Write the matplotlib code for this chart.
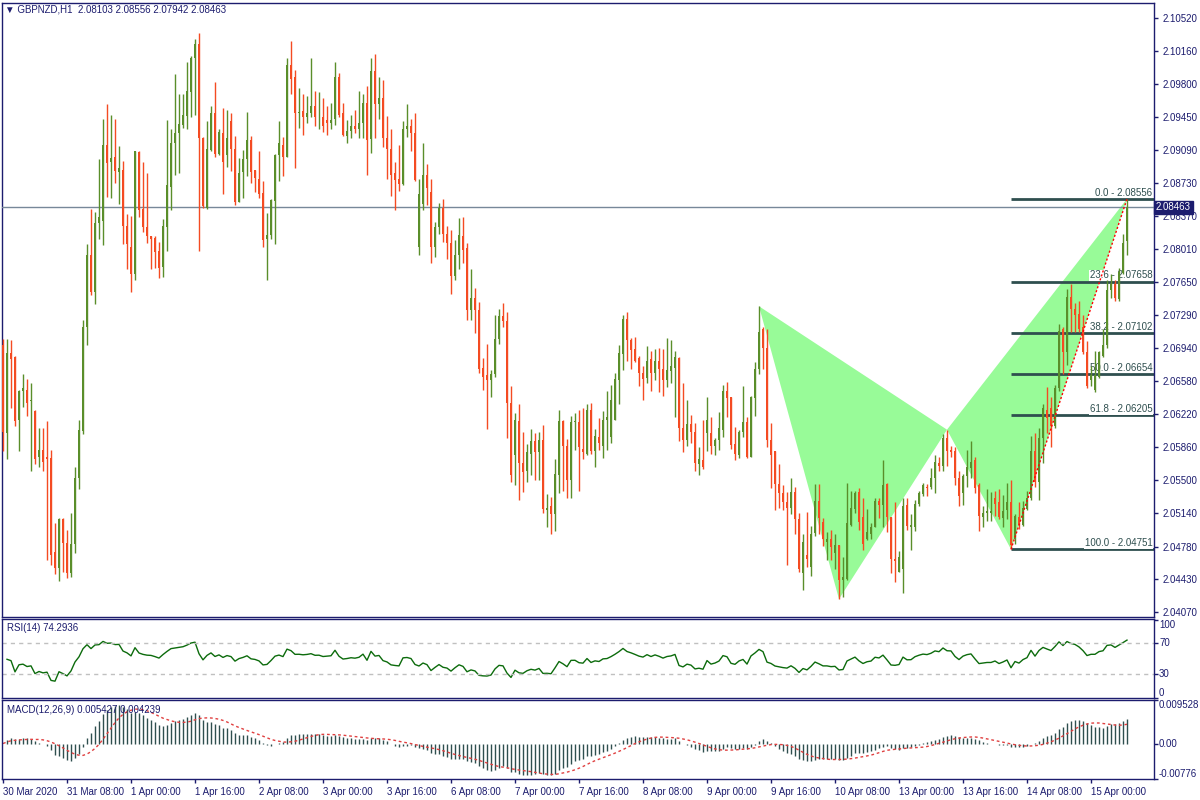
import numpy as np
import pandas as pd
import matplotlib
matplotlib.use("Agg")
import matplotlib.pyplot as plt
from matplotlib.patches import Polygon

plt.rcParams['font.family'] = ['Liberation Sans', 'DejaVu Sans']

# GBPNZD H1 candles, 30 Mar 2020 16:00 -> 15 Apr 2020 09:00
opens = [2.0697, 2.0601, 2.0688, 2.0684, 2.0615, 2.0647, 2.0648, 2.0636, 2.0625, 2.0575,
         2.0583, 2.0575, 2.0574, 2.0472, 2.0455, 2.0508, 2.0482, 2.0449, 2.0481, 2.0552,
         2.0604, 2.0716, 2.0795, 2.0754, 2.0829, 2.0832, 2.0914, 2.0896, 2.0901, 2.0885,
         2.0887, 2.0826, 2.0803, 2.0774, 2.0907, 2.0845, 2.0825, 2.0815, 2.0813, 2.0799,
         2.0782, 2.0825, 2.0868, 2.0916, 2.0927, 2.0936, 2.0946, 2.0972, 2.1009, 2.1024,
         2.0922, 2.0846, 2.0909, 2.0949, 2.0904, 2.0927, 2.0903, 2.0940, 2.0910, 2.0852,
         2.0885, 2.0899, 2.0920, 2.0887, 2.0877, 2.0862, 2.0812, 2.0816, 2.0853, 2.0903,
         2.0914, 2.0901, 2.1001, 2.0988, 2.0949, 2.0951, 2.0945, 2.0949, 2.0956, 2.0944,
         2.0945, 2.0941, 2.0938, 2.0942, 2.0988, 2.0949, 2.0924, 2.0929, 2.0935, 2.0932,
         2.0938, 2.0960, 2.0921, 2.0995, 2.0959, 2.0965, 2.0922, 2.0910, 2.0884, 2.0877,
         2.0872, 2.0932, 2.0935, 2.0927, 2.0803, 2.0850, 2.0882, 2.0863, 2.0803, 2.0825,
         2.0846, 2.0817, 2.0808, 2.0772, 2.0795, 2.0815, 2.0802, 2.0735, 2.0748, 2.0735,
         2.0672, 2.0664, 2.0659, 2.0665, 2.0703, 2.0728, 2.0723, 2.0634, 2.0578, 2.0614,
         2.0569, 2.0560, 2.0579, 2.0593, 2.0581, 2.0594, 2.0518, 2.0522, 2.0513, 2.0556,
         2.0614, 2.0587, 2.0550, 2.0613, 2.0613, 2.0584, 2.0579, 2.0626, 2.0582, 2.0597,
         2.0587, 2.0616, 2.0597, 2.0616, 2.0659, 2.0687, 2.0725, 2.0702, 2.0693, 2.0683,
         2.0666, 2.0661, 2.0682, 2.0667, 2.0680, 2.0671, 2.0659, 2.0669, 2.0672, 2.0683,
         2.0607, 2.0594, 2.0611, 2.0603, 2.0568, 2.0572, 2.0601, 2.0601, 2.0587, 2.0594,
         2.0605, 2.0647, 2.0641, 2.0589, 2.0578, 2.0602, 2.0613, 2.0575, 2.0639, 2.0671,
         2.0714, 2.0694, 2.0594, 2.0582, 2.0546, 2.0536, 2.0526, 2.0520, 2.0537, 2.0508,
         2.0449, 2.0469, 2.0456, 2.0493, 2.0528, 2.0505, 2.0483, 2.0486, 2.0471, 2.0480,
         2.0442, 2.0443, 2.0502, 2.0519, 2.0537, 2.0510, 2.0486, 2.0492, 2.0499, 2.0528,
         2.0523, 2.0546, 2.0510, 2.0465, 2.0451, 2.0454, 2.0523, 2.0499, 2.0499, 2.0524,
         2.0535, 2.0543, 2.0543, 2.0552, 2.0569, 2.0566, 2.0596, 2.0583, 2.0582, 2.0552,
         2.0536, 2.0555, 2.0563, 2.0572, 2.0545, 2.0510, 2.0514, 2.0514, 2.0531, 2.0526,
         2.0509, 2.0518, 2.0526, 2.0486, 2.0510, 2.0501, 2.0519, 2.0531, 2.0582, 2.0548,
         2.0596, 2.0626, 2.0628, 2.0609, 2.0650, 2.0714, 2.0689, 2.0749, 2.0736, 2.0731,
         2.0716, 2.0689, 2.0659, 2.0648, 2.0662, 2.0685, 2.0697, 2.0757, 2.0763, 2.0747,
         2.0775, 2.08103]
highs = [2.0703, 2.0703, 2.0702, 2.0685, 2.0648, 2.0665, 2.0660, 2.0656, 2.0626, 2.0607,
         2.0607, 2.0614, 2.0583, 2.0504, 2.0509, 2.0509, 2.0496, 2.0514, 2.0564, 2.0616,
         2.0724, 2.0807, 2.0845, 2.0841, 2.0899, 2.0942, 2.0959, 2.0947, 2.0942, 2.0913,
         2.0897, 2.0839, 2.0837, 2.0908, 2.0908, 2.0896, 2.0884, 2.0815, 2.0815, 2.0809,
         2.0834, 2.0941, 2.0931, 2.0991, 2.0969, 2.0969, 2.1004, 2.1011, 2.1029, 2.1036,
         2.0923, 2.0940, 2.0957, 2.0983, 2.0932, 2.0954, 2.0952, 2.0949, 2.0924, 2.0900,
         2.0909, 2.0950, 2.0924, 2.0887, 2.0908, 2.0875, 2.0840, 2.0855, 2.0904, 2.0940,
         2.0923, 2.1009, 2.1027, 2.0996, 2.0976, 2.0970, 2.0967, 2.1009, 2.0973, 2.0972,
         2.0965, 2.0957, 2.0960, 2.1004, 2.0992, 2.0960, 2.0941, 2.0947, 2.0952, 2.0973,
         2.0970, 2.0978, 2.1009, 2.1013, 2.0988, 2.0985, 2.0946, 2.0931, 2.0896, 2.0914,
         2.0940, 2.0959, 2.0942, 2.0949, 2.0877, 2.0916, 2.0894, 2.0877, 2.0831, 2.0851,
         2.0855, 2.0826, 2.0822, 2.0811, 2.0835, 2.0836, 2.0808, 2.0779, 2.0759, 2.0744,
         2.0683, 2.0698, 2.0670, 2.0729, 2.0736, 2.0743, 2.0733, 2.0652, 2.0623, 2.0633,
         2.0602, 2.0589, 2.0606, 2.0601, 2.0602, 2.0610, 2.0535, 2.0532, 2.0573, 2.0626,
         2.0615, 2.0595, 2.0620, 2.0623, 2.0626, 2.0629, 2.0633, 2.0634, 2.0606, 2.0618,
         2.0625, 2.0647, 2.0653, 2.0666, 2.0697, 2.0730, 2.0733, 2.0705, 2.0706, 2.0685,
         2.0674, 2.0696, 2.0690, 2.0693, 2.0694, 2.0693, 2.0705, 2.0702, 2.0690, 2.0684,
         2.0656, 2.0637, 2.0621, 2.0612, 2.0586, 2.0616, 2.0640, 2.0619, 2.0596, 2.0624,
         2.0653, 2.0657, 2.0641, 2.0608, 2.0605, 2.0652, 2.0619, 2.0642, 2.0679, 2.0739,
         2.0716, 2.0714, 2.0612, 2.0582, 2.0568, 2.0545, 2.0537, 2.0552, 2.0543, 2.0514,
         2.0492, 2.0516, 2.0500, 2.0546, 2.0546, 2.0509, 2.0494, 2.0496, 2.0492, 2.0480,
         2.0467, 2.0547, 2.0538, 2.0538, 2.0542, 2.0531, 2.0519, 2.0504, 2.0531, 2.0531,
         2.0572, 2.0547, 2.0510, 2.0526, 2.0473, 2.0531, 2.0531, 2.0513, 2.0529, 2.0538,
         2.0547, 2.0546, 2.0563, 2.0577, 2.0575, 2.0600, 2.0605, 2.0587, 2.0586, 2.0560,
         2.0557, 2.0583, 2.0593, 2.0575, 2.0547, 2.0522, 2.0541, 2.0537, 2.0538, 2.0541,
         2.0534, 2.0547, 2.0550, 2.0513, 2.0526, 2.0528, 2.0538, 2.0598, 2.0601, 2.0607,
         2.0633, 2.0651, 2.0641, 2.0653, 2.0720, 2.0717, 2.0758, 2.0763, 2.0743, 2.0745,
         2.0730, 2.0701, 2.0674, 2.0690, 2.0690, 2.0714, 2.0768, 2.0774, 2.0767, 2.0781,
         2.0818, 2.08556]
lows = [2.0582, 2.0573, 2.0629, 2.0609, 2.0582, 2.0630, 2.0620, 2.0560, 2.0568, 2.0564,
        2.0560, 2.0464, 2.0458, 2.0448, 2.0441, 2.0451, 2.0444, 2.0445, 2.0471, 2.0541,
        2.0600, 2.0697, 2.0751, 2.0742, 2.0812, 2.0806, 2.0858, 2.0857, 2.0873, 2.0850,
        2.0807, 2.0780, 2.0754, 2.0768, 2.0836, 2.0820, 2.0808, 2.0780, 2.0781, 2.0770,
        2.0771, 2.0799, 2.0843, 2.0882, 2.0884, 2.0933, 2.0932, 2.0945, 2.0947, 2.0799,
        2.0846, 2.0845, 2.0908, 2.0901, 2.0903, 2.0861, 2.0890, 2.0886, 2.0849, 2.0852,
        2.0857, 2.0880, 2.0873, 2.0863, 2.0857, 2.0803, 2.0767, 2.0812, 2.0807, 2.0875,
        2.0880, 2.0901, 2.0969, 2.0889, 2.0933, 2.0925, 2.0938, 2.0945, 2.0935, 2.0931,
        2.0928, 2.0925, 2.0931, 2.0936, 2.0944, 2.0924, 2.0916, 2.0922, 2.0927, 2.0922,
        2.0922, 2.0882, 2.0905, 2.0922, 2.0942, 2.0912, 2.0877, 2.0859, 2.0844, 2.0864,
        2.0871, 2.0923, 2.0908, 2.0875, 2.0795, 2.0843, 2.0849, 2.0786, 2.0793, 2.0817,
        2.0809, 2.0790, 2.0752, 2.0768, 2.0779, 2.0786, 2.0724, 2.0724, 2.0710, 2.0667,
        2.0648, 2.0606, 2.0640, 2.0662, 2.0698, 2.0716, 2.0596, 2.0548, 2.0545, 2.0529,
        2.0537, 2.0548, 2.0556, 2.0550, 2.0550, 2.0514, 2.0499, 2.0492, 2.0495, 2.0536,
        2.0538, 2.0531, 2.0531, 2.0583, 2.0538, 2.0573, 2.0577, 2.0579, 2.0565, 2.0583,
        2.0574, 2.0583, 2.0591, 2.0616, 2.0633, 2.0670, 2.0680, 2.0671, 2.0678, 2.0652,
        2.0637, 2.0656, 2.0647, 2.0659, 2.0646, 2.0642, 2.0651, 2.0656, 2.0619, 2.0593,
        2.0581, 2.0587, 2.0591, 2.0560, 2.0556, 2.0562, 2.0582, 2.0579, 2.0577, 2.0583,
        2.0597, 2.0619, 2.0584, 2.0572, 2.0574, 2.0597, 2.0574, 2.0575, 2.0620, 2.0665,
        2.0671, 2.0586, 2.0542, 2.0518, 2.0520, 2.0518, 2.0458, 2.0513, 2.0492, 2.0450,
        2.0431, 2.0456, 2.0446, 2.0490, 2.0492, 2.0479, 2.0463, 2.0463, 2.0454, 2.0421,
        2.0423, 2.0442, 2.0500, 2.0515, 2.0496, 2.0474, 2.0485, 2.0486, 2.0499, 2.0509,
        2.0499, 2.0494, 2.0449, 2.0440, 2.0451, 2.0428, 2.0496, 2.0474, 2.0495, 2.0522,
        2.0533, 2.0533, 2.0541, 2.0536, 2.0560, 2.0560, 2.0566, 2.0575, 2.0545, 2.0522,
        2.0523, 2.0543, 2.0552, 2.0536, 2.0495, 2.0499, 2.0506, 2.0506, 2.0511, 2.0508,
        2.0499, 2.0508, 2.04751, 2.0481, 2.0497, 2.0500, 2.0518, 2.0529, 2.0543, 2.0529,
        2.0569, 2.0601, 2.0586, 2.0607, 2.0647, 2.0665, 2.0675, 2.0711, 2.0711, 2.0711,
        2.0687, 2.0650, 2.0652, 2.0646, 2.0661, 2.0684, 2.0694, 2.0748, 2.0745, 2.0745,
        2.0774, 2.07942]
closes = [2.0602, 2.0688, 2.0682, 2.0614, 2.0647, 2.0650, 2.0634, 2.0637, 2.0573, 2.0583,
          2.0570, 2.0573, 2.0469, 2.0455, 2.0508, 2.0482, 2.0449, 2.0481, 2.0552, 2.0605,
          2.0717, 2.0795, 2.0754, 2.0829, 2.0836, 2.0914, 2.0895, 2.0900, 2.0886, 2.0889,
          2.0826, 2.0807, 2.0774, 2.0908, 2.0843, 2.0825, 2.0815, 2.0812, 2.0798, 2.0781,
          2.0826, 2.0871, 2.0916, 2.0927, 2.0937, 2.0947, 2.0973, 2.1009, 2.1024, 2.0922,
          2.0848, 2.0910, 2.0949, 2.0904, 2.0928, 2.0896, 2.0922, 2.0910, 2.0852, 2.0884,
          2.0899, 2.0920, 2.0885, 2.0878, 2.0861, 2.0811, 2.0816, 2.0854, 2.0903, 2.0916,
          2.0901, 2.1001, 2.0986, 2.0949, 2.0950, 2.0945, 2.0949, 2.0957, 2.0944, 2.0945,
          2.0935, 2.0938, 2.0941, 2.0988, 2.0947, 2.0925, 2.0929, 2.0935, 2.0932, 2.0938,
          2.0960, 2.0920, 2.0995, 2.0959, 2.0965, 2.0922, 2.0910, 2.0882, 2.0876, 2.0872,
          2.0932, 2.0935, 2.0927, 2.0876, 2.0861, 2.0882, 2.0867, 2.0803, 2.0825, 2.0846,
          2.0817, 2.0808, 2.0772, 2.0795, 2.0816, 2.0800, 2.0735, 2.0748, 2.0735, 2.0671,
          2.0662, 2.0659, 2.0665, 2.0703, 2.0728, 2.0723, 2.0634, 2.0556, 2.0615, 2.0569,
          2.0559, 2.0581, 2.0593, 2.0581, 2.0594, 2.0519, 2.0520, 2.0513, 2.0557, 2.0614,
          2.0587, 2.0550, 2.0613, 2.0614, 2.0586, 2.0581, 2.0626, 2.0582, 2.0598, 2.0591,
          2.0616, 2.0619, 2.0637, 2.0660, 2.0688, 2.0725, 2.0702, 2.0692, 2.0680, 2.0667,
          2.0660, 2.0680, 2.0667, 2.0680, 2.0671, 2.0659, 2.0670, 2.0674, 2.0684, 2.0607,
          2.0594, 2.0611, 2.0603, 2.0569, 2.0573, 2.0564, 2.0616, 2.0587, 2.0594, 2.0607,
          2.0647, 2.0639, 2.0588, 2.0579, 2.0602, 2.0613, 2.0575, 2.0641, 2.0671, 2.0711,
          2.0694, 2.0594, 2.0578, 2.0546, 2.0536, 2.0526, 2.0520, 2.0537, 2.0508, 2.0454,
          2.0483, 2.0465, 2.0492, 2.0528, 2.0509, 2.0486, 2.0486, 2.0478, 2.0480, 2.0442,
          2.0445, 2.0504, 2.0520, 2.0536, 2.0505, 2.0481, 2.0494, 2.0499, 2.0528, 2.0523,
          2.0545, 2.0510, 2.0465, 2.0462, 2.0467, 2.0522, 2.0500, 2.0501, 2.0524, 2.0536,
          2.0545, 2.0542, 2.0552, 2.0570, 2.0566, 2.0596, 2.0582, 2.0581, 2.0552, 2.0533,
          2.0555, 2.0565, 2.0570, 2.0542, 2.0511, 2.0514, 2.0517, 2.0517, 2.0524, 2.0510,
          2.0517, 2.0526, 2.0480, 2.0511, 2.0501, 2.0520, 2.0531, 2.0582, 2.0548, 2.0596,
          2.0628, 2.0618, 2.0609, 2.0650, 2.0712, 2.0689, 2.0749, 2.0736, 2.0730, 2.0714,
          2.0689, 2.0652, 2.0664, 2.0664, 2.0689, 2.0697, 2.0757, 2.0763, 2.0748, 2.0776,
          2.0808, 2.08463]

time_labels = ["30 Mar 2020", "31 Mar 08:00", "1 Apr 00:00", "1 Apr 16:00", "2 Apr 08:00",
               "3 Apr 00:00", "3 Apr 16:00", "6 Apr 08:00", "7 Apr 00:00", "7 Apr 16:00",
               "8 Apr 08:00", "9 Apr 00:00", "9 Apr 16:00", "10 Apr 08:00", "13 Apr 00:00",
               "13 Apr 16:00", "14 Apr 08:00", "15 Apr 00:00"]
bars_per_label = 16

price_ticks = ["2.10520", "2.10160", "2.09800", "2.09450", "2.09090", "2.08730", "2.08370",
               "2.08010", "2.07650", "2.07290", "2.06940", "2.06580", "2.06220", "2.05860",
               "2.05500", "2.05140", "2.04780", "2.04430", "2.04070"]
bid = 2.08463

# harmonic pattern X, A, B, C, D (bar index, price)
pattern_bars = [189, 209, 236, 252, 281]
pattern_prices = [2.0739, 2.0421, 2.0605, 2.04751, 2.08556]

fib_levels = [0.0, 23.6, 38.2, 50.0, 61.8, 100.0]
fib_prices = [2.08556, 2.07658, 2.07102, 2.06654, 2.06205, 2.04751]
fib_start = 252

rsi_ticks = [0, 30, 70, 100]
macd_ticks = [-0.00776, 0.0, 0.009528]
macd_tick_labels = ["-0.00776", "0.00", "0.009528"]

NAVY = '#1c1c6e'
GREEN = '#5a8e2a'
RED = '#f44b22'

o = np.array(opens); h = np.array(highs); l = np.array(lows); c = np.array(closes)
x = np.arange(len(c))

# indicators from the closes (first bar uses its own open as the previous price)
cs = pd.Series(c)
delta = cs.diff()
delta.iloc[0] = c[0] - o[0]
gain = delta.clip(lower=0)
loss = -delta.clip(upper=0)
ag = gain.ewm(alpha=1 / 14, adjust=True).mean()
al = loss.ewm(alpha=1 / 14, adjust=True).mean()
rsi = 100 - 100 / (1 + ag / al)
rsi.iloc[0] = np.nan
ema12 = cs.ewm(span=12, adjust=False).mean()
ema26 = cs.ewm(span=26, adjust=False).mean()
macd = ema12 - ema26
signal = macd.rolling(9, min_periods=1).mean()

W, H = 1200, 800
def box(x0, y0, x1, y1):
    return [x0 / W, 1 - y1 / H, (x1 - x0) / W, (y1 - y0) / H]

fig = plt.figure(figsize=(12, 8), dpi=100)
ax = fig.add_axes(box(2, 3, 1154, 617))
ax_rsi = fig.add_axes(box(2, 619, 1154, 698), sharex=ax)
ax_macd = fig.add_axes(box(2, 700, 1154, 779), sharex=ax)

xmax = (1154 - 3) / 4
for a in (ax, ax_rsi, ax_macd):
    for s in a.spines.values():
        s.set_color(NAVY)
        s.set_linewidth(1)
    a.yaxis.tick_right()
    a.tick_params(axis='y', direction='out', length=3, width=1, colors=NAVY,
                  labelsize=7, pad=3, labelcolor=NAVY)
    a.tick_params(axis='x', bottom=False, labelbottom=False)
ax.set_xlim(-0.25, xmax)

# main price panel
ax.set_ylim(2.04016, 2.10683)
ax.set_yticks([float(t) for t in price_ticks])
ax.set_yticklabels(price_ticks)

ax.add_patch(Polygon(list(zip(pattern_bars[0:3], pattern_prices[0:3])),
                     closed=True, facecolor='#98FB98', edgecolor='none', zorder=1))
ax.add_patch(Polygon(list(zip(pattern_bars[2:5], pattern_prices[2:5])),
                     closed=True, facecolor='#98FB98', edgecolor='none', zorder=1))

ax.hlines(fib_prices, fib_start, xmax, colors='#2f4f4f', lw=2, zorder=2)
for lev, p in zip(fib_levels, fib_prices):
    ax.text(xmax - 0.4, p + 0.00012, f"{lev:.1f} - {p:.5f}", ha='right', va='bottom',
            fontsize=7, color='#2f4f4f', zorder=3,
            bbox=dict(facecolor='white', edgecolor='none', pad=0.3))
ax.plot([pattern_bars[3], pattern_bars[4]], [pattern_prices[3], pattern_prices[4]],
        color='red', lw=1, ls=(0, (1.5, 1.5)), zorder=6)

ax.axhline(bid, color='#778899', lw=1, zorder=3)

up = c >= o
cols = np.where(up, GREEN, RED)
ax.vlines(x, l, h, colors=cols, lw=1, zorder=4)
ax.bar(x, np.maximum(np.abs(c - o), 0.00008), bottom=np.minimum(o, c), width=0.74,
       color=cols, lw=0, zorder=5)

ax.text(1 + 2 / 1152, bid, f"{bid:.5f}", transform=ax.get_yaxis_transform(),
        ha='left', va='center', fontsize=7, color='white', clip_on=False, zorder=10,
        bbox=dict(facecolor=NAVY, edgecolor=NAVY, pad=1.2))

fig.text(5 / W, 1 - 4 / H, "\u25bc GBPNZD,H1  2.08103 2.08556 2.07942 2.08463",
         ha='left', va='top', fontsize=7, color=NAVY)

# RSI panel
ax_rsi.set_ylim(-0.6, 101.35)
ax_rsi.plot(x, rsi, color='#0c6b0c', lw=1)
for lvl in (30, 70):
    ax_rsi.axhline(lvl, color='#c0c0c0', lw=1, ls=(0, (3, 3)))
ax_rsi.set_yticks(rsi_ticks)
ax_rsi.set_yticklabels([])
for t in rsi_ticks:
    va = 'top' if t == 100 else ('bottom' if t == 0 else 'center')
    ax_rsi.text(1 + 5 / 1152, t, str(t), transform=ax_rsi.get_yaxis_transform(),
                ha='left', va=va, fontsize=7, color=NAVY, clip_on=False)
ax_rsi.text(5 / 1152, 0.95, "RSI(14) 74.2936", transform=ax_rsi.transAxes,
            ha='left', va='top', fontsize=7, color=NAVY)

# MACD panel
ax_macd.set_ylim(macd_ticks[0], macd_ticks[-1])
ax_macd.vlines(x, 0, macd, colors='#2f4f4f', lw=1)
ax_macd.plot(x, signal, color='#e04040', lw=1, ls=(0, (2, 2)))
ax_macd.set_yticks(macd_ticks)
ax_macd.set_yticklabels([])
for t, lab in zip(macd_ticks, macd_tick_labels):
    va = 'top' if t == macd_ticks[-1] else ('bottom' if t == macd_ticks[0] else 'center')
    ax_macd.text(1 + 5 / 1152, t, lab, transform=ax_macd.get_yaxis_transform(),
                 ha='left', va=va, fontsize=7, color=NAVY, clip_on=False)
ax_macd.text(5 / 1152, 0.94, "MACD(12,26,9) 0.005427 0.004239", transform=ax_macd.transAxes,
             ha='left', va='top', fontsize=7, color=NAVY)

ax_macd.tick_params(axis='x', bottom=True, labelbottom=True, direction='out', length=3,
                    width=1, colors=NAVY, labelsize=7, pad=3)
ax_macd.set_xticks(np.arange(len(time_labels)) * bars_per_label)
ax_macd.set_xticklabels(time_labels, ha='left')

fig.savefig("out.png", dpi=100)
